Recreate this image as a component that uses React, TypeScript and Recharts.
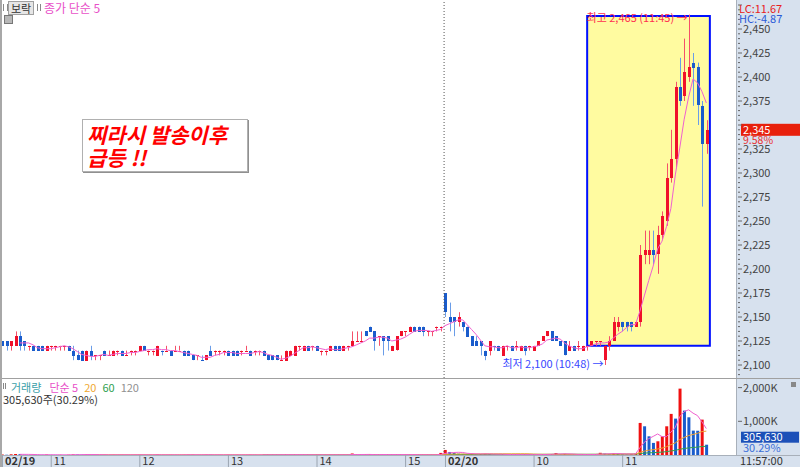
import React from 'react';
import {
  ComposedChart, Bar, Line, XAxis, YAxis, Cell,
  ReferenceArea, ReferenceLine, ReferenceDot,
} from 'recharts';

// 보락 3분봉 [시가, 고가, 저가, 종가]  02/19 10:27 ~ 15:30
const candles0219 = [
  [2125, 2125, 2120, 2120], [2125, 2125, 2115, 2120], [2120, 2125, 2115, 2125], [2120, 2135, 2120, 2130],
  [2130, 2135, 2115, 2120], [2125, 2125, 2115, 2120], [2120, 2120, 2115, 2120], [2120, 2120, 2115, 2115],
  [2120, 2120, 2115, 2115], [2120, 2120, 2115, 2115], [2115, 2120, 2115, 2120], [2120, 2120, 2115, 2120],
  [2120, 2120, 2115, 2120], [2120, 2120, 2115, 2120], [2120, 2120, 2115, 2120], [2120, 2120, 2115, 2115],
  [2115, 2120, 2105, 2110], [2110, 2115, 2105, 2105], [2115, 2115, 2105, 2105], [2105, 2115, 2105, 2115],
  [2115, 2120, 2105, 2110], [2110, 2110, 2105, 2110], [2110, 2110, 2105, 2110], [2115, 2115, 2110, 2110],
  [2110, 2115, 2110, 2110], [2110, 2115, 2110, 2115], [2115, 2115, 2110, 2115], [2115, 2115, 2110, 2110],
  [2110, 2115, 2110, 2110], [2115, 2115, 2110, 2115], [2115, 2115, 2110, 2115], [2115, 2120, 2115, 2120],
  [2120, 2120, 2115, 2115], [2115, 2115, 2110, 2115], [2115, 2115, 2110, 2115], [2110, 2120, 2110, 2120],
  [2115, 2115, 2110, 2115], [2115, 2120, 2115, 2115], [2115, 2115, 2110, 2110], [2115, 2120, 2115, 2115],
  [2115, 2120, 2115, 2115], [2115, 2115, 2110, 2110], [2115, 2115, 2110, 2110], [2110, 2110, 2105, 2105],
  [2110, 2110, 2105, 2110], [2105, 2110, 2105, 2105], [2105, 2110, 2105, 2110], [2115, 2120, 2110, 2110],
  [2115, 2115, 2110, 2115], [2115, 2115, 2110, 2115], [2115, 2115, 2110, 2115], [2115, 2115, 2110, 2110],
  [2115, 2115, 2110, 2110], [2115, 2115, 2110, 2110], [2115, 2115, 2110, 2115], [2115, 2120, 2115, 2115],
  [2115, 2115, 2110, 2110], [2115, 2115, 2110, 2115], [2115, 2115, 2110, 2115], [2115, 2115, 2110, 2110],
  [2110, 2110, 2105, 2105], [2110, 2110, 2105, 2105], [2110, 2110, 2105, 2105], [2105, 2110, 2105, 2105],
  [2105, 2115, 2105, 2115], [2110, 2115, 2110, 2115], [2110, 2120, 2110, 2120], [2120, 2120, 2115, 2120],
  [2115, 2120, 2115, 2120], [2120, 2120, 2115, 2115], [2120, 2120, 2115, 2120], [2120, 2120, 2115, 2115],
  [2115, 2115, 2110, 2115], [2115, 2115, 2110, 2115], [2115, 2120, 2115, 2120], [2120, 2120, 2115, 2115],
  [2120, 2120, 2115, 2115], [2115, 2120, 2115, 2120], [2120, 2120, 2115, 2120], [2120, 2135, 2120, 2125],
  [2125, 2135, 2125, 2125], [2125, 2135, 2125, 2125], [2135, 2135, 2130, 2130], [2140, 2140, 2135, 2135],
  [2135, 2135, 2115, 2125], [2130, 2130, 2120, 2130], [2130, 2130, 2110, 2125], [2130, 2130, 2115, 2125],
  [2115, 2120, 2115, 2120], [2115, 2130, 2115, 2130], [2130, 2135, 2130, 2135], [2135, 2135, 2130, 2135],
  [2135, 2140, 2135, 2140], [2140, 2140, 2135, 2135], [2140, 2140, 2135, 2135], [2140, 2140, 2130, 2135],
  [2135, 2135, 2130, 2135], [2135, 2135, 2130, 2135], [2140, 2140, 2135, 2140], [2140, 2140, 2135, 2140],
];

// 02/20 09:00 ~ 11:57
const candles0220 = [
  [2175, 2175, 2150, 2155], [2150, 2165, 2135, 2145], [2150, 2150, 2130, 2145], [2145, 2155, 2140, 2150],
  [2145, 2145, 2135, 2140], [2140, 2140, 2130, 2130], [2130, 2130, 2120, 2120], [2125, 2130, 2120, 2120],
  [2125, 2125, 2110, 2120], [2115, 2115, 2105, 2110], [2115, 2125, 2110, 2125], [2120, 2120, 2115, 2120],
  [2120, 2120, 2115, 2115], [2110, 2120, 2110, 2120], [2120, 2120, 2115, 2120], [2120, 2120, 2115, 2115],
  [2120, 2125, 2115, 2120], [2115, 2120, 2115, 2120], [2120, 2120, 2110, 2115], [2120, 2120, 2115, 2120],
  [2115, 2120, 2115, 2120], [2120, 2125, 2120, 2125], [2125, 2130, 2125, 2130], [2130, 2135, 2130, 2135],
  [2135, 2135, 2125, 2125], [2130, 2130, 2125, 2125], [2125, 2125, 2120, 2120], [2125, 2125, 2110, 2110],
  [2115, 2125, 2115, 2120], [2120, 2120, 2115, 2115], [2120, 2125, 2115, 2120], [2115, 2120, 2115, 2120],
  [2120, 2120, 2115, 2120], [2120, 2125, 2120, 2125], [2125, 2125, 2120, 2125], [2125, 2125, 2120, 2125],
  [2105, 2120, 2100, 2120], [2120, 2130, 2115, 2125], [2125, 2150, 2125, 2145], [2140, 2150, 2135, 2145],
  [2145, 2145, 2135, 2140], [2145, 2145, 2135, 2140], [2145, 2145, 2135, 2140], [2140, 2145, 2140, 2145],
  [2145, 2225, 2140, 2215], [2215, 2240, 2205, 2220], [2215, 2240, 2205, 2220], [2220, 2240, 2205, 2215],
  [2215, 2245, 2195, 2235], [2235, 2260, 2230, 2255], [2250, 2310, 2245, 2295], [2295, 2345, 2290, 2315],
  [2315, 2395, 2305, 2390], [2390, 2420, 2370, 2375], [2380, 2440, 2375, 2405], [2400, 2465, 2395, 2410],
  [2415, 2425, 2370, 2410], [2410, 2415, 2350, 2370], [2370, 2375, 2265, 2330], [2330, 2355, 2320, 2345],
];

const volume0219 = [
  12000, 8000, 21000, 30000, 26000, 9000, 5000, 11000, 7000, 6000,
  14000, 5000, 4000, 6000, 3000, 9000, 18000, 15000, 12000, 20000,
  10000, 4000, 3000, 7000, 3000, 8000, 5000, 9000, 4000, 5000,
  6000, 9000, 7000, 3000, 4000, 16000, 3000, 2000, 7000, 4000,
  5000, 8000, 9000, 12000, 3000, 4000, 11000, 9000, 4000, 3000,
  2000, 8000, 6000, 7000, 3000, 5000, 8000, 4000, 2000, 9000,
  13000, 8000, 7000, 4000, 15000, 9000, 14000, 5000, 8000, 7000,
  4000, 8000, 6000, 5000, 9000, 7000, 6000, 8000, 4000, 45000,
  9000, 8000, 11000, 14000, 20000, 8000, 17000, 12000, 9000, 18000,
  13000, 6000, 12000, 9000, 7000, 10000, 5000, 4000, 8000, 62000,
];

const volume0220 = [
  150000, 90000, 60000, 40000, 35000, 30000, 40000, 25000, 30000, 35000,
  30000, 15000, 12000, 20000, 10000, 12000, 15000, 10000, 12000, 8000,
  10000, 15000, 20000, 25000, 30000, 60000, 20000, 35000, 15000, 12000,
  10000, 15000, 12000, 20000, 18000, 65000, 40000, 30000, 45000, 35000,
  25000, 20000, 30000, 40000, 952000, 852000, 555000, 359000, 407000, 555000,
  852000, 1220000, 1080000, 1970000, 1318000, 1119000, 724000, 720000, 1050000, 305630,
];

const timeTickIdx = [0, 11, 31, 51, 71, 91, 100, 120, 140];
const timeTickText = ['02/19', '11', '12', '13', '14', '15', '02/20', '10', '11'];
const volumeTicks = [1000000, 2000000];
const highTime = '11:45';
const lowTime = '10:48';
const volRatioText = '30.29%';
const dayBreakIdx = 99.8;
const boxRange = { x1: 132.1, x2: 159.8, y1: 2120, y2: 2463.5 };

const FONT = "'Noto Sans CJK KR', 'Noto Sans', sans-serif";
const UP = '#f0102a';
const UP_WICK = '#f5506a';
const DOWN = '#1a5ccc';
const DOWN_WICK = '#6a9de8';
const X_DOMAIN: [number, number] = [0, 165.7];
const PRICE_DOMAIN: [number, number] = [2086.46, 2480.21];
const VOL_DOMAIN: [number, number] = [0, 2226000];
const MAX_PRICE_LABEL = 2450;

const allCandles = [...candles0219, ...candles0220];
const allVol = [...volume0219, ...volume0220];
const closes = allCandles.map((k) => k[3]);

const sma = (arr: number[], i: number, n: number) => {
  if (i < n - 1) return null;
  let s = 0;
  for (let j = i - n + 1; j <= i; j++) s += arr[j];
  return s / n;
};

const rows = allCandles.map(([o, h, l, c], i) => {
  const prevC = i > 0 ? closes[i - 1] : o;
  return {
    i, o, h, l, c,
    up: c > o || (c === o && c >= prevC),
    ma5: sma(closes, i, 5),
    v: allVol[i],
    vUp: i === 0 || allVol[i] >= allVol[i - 1],
    mv5: sma(allVol, i, 5),
    mv20: sma(allVol, i, 20),
    mv60: sma(allVol, i, 60),
  };
});

const priceTicks: number[] = [];
for (let p = 2090; p <= 2475; p += 5) priceTicks.push(p);

const last = rows[rows.length - 1];
const day2 = rows.filter((r) => r.i >= candles0219.length);
const highRow = day2.reduce((a, b) => (b.h > a.h ? b : a));
const lowRow = day2.reduce((a, b) => (b.l < a.l ? b : a));
const prevDayClose = candles0219[candles0219.length - 1][3];
const chgPct = ((last.c / prevDayClose - 1) * 100).toFixed(2);
const lcPct = ((last.c / lowRow.l - 1) * 100).toFixed(2);
const hcPct = ((last.c / highRow.h - 1) * 100).toFixed(2);
const fmt = (n: number) => n.toLocaleString('en-US');

const Candle = (props: any) => {
  const { x, y, width, height, payload } = props;
  if (!payload) return null;
  const { o, h, l, c, up } = payload;
  const top0 = Math.min(y, y + height);
  const hh = Math.abs(height);
  const k = h > l ? hh / (h - l) : 0;
  const cx = Math.round(x + width / 2);
  const bTop = top0 + (h - Math.max(o, c)) * k;
  const bBot = top0 + (h - Math.min(o, c)) * k;
  return (
    <g>
      <line x1={cx + 0.5} x2={cx + 0.5} y1={top0} y2={top0 + hh} stroke={up ? UP_WICK : DOWN_WICK} strokeWidth={1} />
      <rect x={cx - 1} y={Math.round(bTop)} width={3} height={Math.max(1, Math.round(bBot - bTop))} fill={up ? UP : DOWN} />
    </g>
  );
};

const PriceTick = (props: any) => {
  const { x, y, payload } = props;
  const v = payload.value;
  const major = v % 25 === 0;
  // the current-price tag covers the label next to it, like the trading screen does
  const showLabel = major && v <= MAX_PRICE_LABEL && Math.abs(v - last.c) >= 10;
  return (
    <g>
      <line x1={x + 2} x2={x + (major ? 6 : 4)} y1={y} y2={y} stroke="#666" />
      {showLabel && (
        <text x={x + 7} y={y + 0.5} dy="0.36em" fontSize={11} fill="#444" fontFamily={FONT}>{fmt(v)}</text>
      )}
    </g>
  );
};

const VolTick = (props: any) => {
  const { x, y, payload } = props;
  return (
    <g>
      <line x1={x + 2} x2={x + 6} y1={y} y2={y} stroke="#666" />
      <text x={x + 7} y={y} dy="0.36em" fontSize={11} fill="#444" fontFamily={FONT}>
        {fmt(payload.value / 1000)}K
      </text>
    </g>
  );
};

const TimeTick = (props: any) => {
  const { x, y, payload, index } = props;
  const txt = timeTickText[index] ?? String(payload.value);
  return (
    <g>
      <line x1={x + 0.5} x2={x + 0.5} y1={y} y2={y + 12} stroke="#9aa4b0" />
      <text x={x + 3} y={y + 10} fontSize={11} fill="#333" fontFamily={FONT} fontWeight={txt.includes('/') ? 700 : 400}>
        {txt}
      </text>
    </g>
  );
};

const PriceTag = (props: any) => {
  const { viewBox } = props;
  const x = viewBox.x + viewBox.width;
  const y = viewBox.y;
  return (
    <g>
      <rect x={x + 5} y={y - 6} width={64} height={12} fill="#e8200c" />
      <text x={x + 7} y={y} dy="0.36em" fontSize={11} fill="#fff" fontFamily={FONT}>{fmt(last.c)}</text>
      <text x={x + 7} y={y + 10.5} dy="0.36em" fontSize={10.5} fill="#e83030" fontFamily={FONT}>{chgPct}%</text>
    </g>
  );
};

const VolTag = (props: any) => {
  const { viewBox } = props;
  const x = viewBox.x + viewBox.width;
  const y = viewBox.y;
  return (
    <g>
      <rect x={x + 5} y={y - 13} width={58} height={11} fill="#1c50b8" />
      <text x={x + 7} y={y - 7.5} dy="0.36em" fontSize={11} fill="#fff" fontFamily={FONT}>{fmt(last.v)}</text>
      <text x={x + 7} y={y + 3.5} dy="0.36em" fontSize={11} fill="#3a6fd8" fontFamily={FONT}>{volRatioText}</text>
    </g>
  );
};

const Note = (props: any) => {
  const { viewBox, text, color, dy } = props;
  return (
    <text x={viewBox.x} y={viewBox.y + dy} textAnchor="end" fontSize={11} fill={color} fontFamily={FONT}>
      {text}
    </text>
  );
};

export default function App() {
  return (
    <div style={{ position: 'absolute', left: 0, top: 0, width: 800, height: 467, background: '#fff', overflow: 'hidden', fontFamily: FONT }}>
      {/* right scale panel + bottom time strip */}
      <div style={{ position: 'absolute', left: 736, top: 0, width: 64, height: 467, background: '#d7e1ee', borderLeft: '1px solid #a8b0ba' }} />
      <div style={{ position: 'absolute', left: 0, top: 455, width: 800, height: 12, background: '#d7e1ee', borderTop: '1px solid #a8b0ba' }} />
      <div style={{ position: 'absolute', left: 0, top: 378, width: 800, height: 1, background: '#a0a0a0' }} />
      <div style={{ position: 'absolute', left: 0, top: 0, width: 2, height: 467, background: '#a8a8a8' }} />

      <div style={{ position: 'absolute', left: 0, top: 0 }}>
        <ComposedChart width={800} height={379} data={rows} margin={{ top: 0, right: 0, bottom: 1, left: 2 }}>
          <XAxis type="number" dataKey="i" domain={X_DOMAIN} allowDataOverflow hide />
          <YAxis
            orientation="right" width={64} type="number" domain={PRICE_DOMAIN} allowDataOverflow
            ticks={priceTicks} interval={0} tickSize={0} tickMargin={0} axisLine={false} tickLine={false}
            tick={<PriceTick />}
          />
          <ReferenceArea {...boxRange} fill="#fffba0" fillOpacity={1} stroke="#0010ff" strokeWidth={2} ifOverflow="visible" />
          <ReferenceLine x={dayBreakIdx} stroke="#555" strokeDasharray="1 2" />
          <Bar dataKey={(d: any) => [d.l, d.h]} barSize={3} shape={<Candle />} isAnimationActive={false} />
          <Line dataKey="ma5" stroke="#f060d0" strokeWidth={1} dot={false} isAnimationActive={false} />
          <ReferenceDot x={highRow.i} y={highRow.h} r={1} fill="none" stroke="none"
            label={<Note text={`최고 ${fmt(highRow.h)} (${highTime}) →`} color="#ff3050" dy={8} />} />
          <ReferenceDot x={lowRow.i} y={lowRow.l} r={1} fill="none" stroke="none"
            label={<Note text={`최저 ${fmt(lowRow.l)} (${lowTime}) →`} color="#3848ff" dy={4} />} />
          <ReferenceLine y={last.c} stroke="none" label={<PriceTag />} />
        </ComposedChart>
      </div>

      <div style={{ position: 'absolute', left: 0, top: 379 }}>
        <ComposedChart width={800} height={88} data={rows} margin={{ top: 1, right: 0, bottom: 0, left: 2 }}>
          <XAxis
            type="number" dataKey="i" domain={X_DOMAIN} allowDataOverflow height={12}
            ticks={timeTickIdx} interval={0} tickSize={0} tickMargin={0} axisLine={false} tickLine={false}
            tick={<TimeTick />}
          />
          <YAxis
            orientation="right" width={64} type="number" domain={VOL_DOMAIN} allowDataOverflow
            ticks={volumeTicks} interval={0} tickSize={0} tickMargin={0} axisLine={false} tickLine={false}
            tick={<VolTick />}
          />
          <ReferenceLine x={dayBreakIdx} stroke="#555" strokeDasharray="1 2" />
          <Bar dataKey="v" barSize={3} isAnimationActive={false}>
            {rows.map((r) => (
              <Cell key={r.i} fill={r.vUp ? '#f01010' : '#1a5ccc'} />
            ))}
          </Bar>
          <Line dataKey="mv60" stroke="#30a050" strokeWidth={1} dot={false} isAnimationActive={false} />
          <Line dataKey="mv20" stroke="#f0a030" strokeWidth={1} dot={false} isAnimationActive={false} />
          <Line dataKey="mv5" stroke="#f060d0" strokeWidth={1} dot={false} isAnimationActive={false} />
          <ReferenceLine y={last.v} stroke="none" label={<VolTag />} />
        </ComposedChart>
      </div>

      {/* header */}
      <div style={{ position: 'absolute', left: 3, top: 4, width: 3, height: 7, borderLeft: '1px solid #888', borderRight: '1px solid #888' }} />
      <div style={{ position: 'absolute', left: 8, top: 1, width: 24, height: 12, background: '#e6e6e6', border: '1px solid #a0a0a0', fontSize: 11, lineHeight: '12px', color: '#333', textAlign: 'center' }}>보락</div>
      <div style={{ position: 'absolute', left: 37, top: 4, width: 2, height: 7, borderLeft: '1px solid #888', borderRight: '1px solid #888' }} />
      <div style={{ position: 'absolute', left: 44, top: 1, fontSize: 12, lineHeight: '14px', color: '#e850c8' }}>종가 단순 5</div>
      <div style={{ position: 'absolute', left: 4, top: 15, width: 7, height: 7, background: '#b8b8b8', border: '1px solid #777' }} />
      <div style={{ position: 'absolute', left: 739, top: 2, fontSize: 11, lineHeight: '12px', color: '#e82020' }}>LC:{lcPct}</div>
      <div style={{ position: 'absolute', left: 739, top: 13, fontSize: 11, lineHeight: '11px', color: '#2a5ad8' }}>HC:{hcPct}</div>

      {/* annotation box */}
      <div style={{ position: 'absolute', left: 82, top: 119, width: 166, height: 53, background: '#fff', border: '1px solid #b0b0b0', boxShadow: '1px 1px 0 #909090', color: '#ff0000', fontSize: 21, lineHeight: '23px', fontWeight: 700, fontStyle: 'italic', padding: '3px 0 0 4px', boxSizing: 'border-box', whiteSpace: 'nowrap' }}>
        찌라시 발송이후<br />급등 !!
      </div>

      {/* volume legend */}
      <div style={{ position: 'absolute', left: 3, top: 383, width: 1, height: 6, borderLeft: '1px solid #888', borderRight: '1px solid #888' }} />
      <div style={{ position: 'absolute', left: 11, top: 380, fontSize: 11, lineHeight: '14px', whiteSpace: 'nowrap' }}>
        <span style={{ color: '#3aa0a8' }}>거래량</span>
        <span style={{ color: '#e850c8', marginLeft: 8 }}>단순 5</span>
        <span style={{ color: '#f0a830', marginLeft: 6 }}>20</span>
        <span style={{ color: '#30a050', marginLeft: 6 }}>60</span>
        <span style={{ color: '#909090', marginLeft: 6 }}>120</span>
      </div>
      <div style={{ position: 'absolute', left: 3, top: 392, fontSize: 11, lineHeight: '14px', color: '#333' }}>
        {fmt(last.v)}주({volRatioText})
      </div>
      <div style={{ position: 'absolute', left: 791, top: 382, width: 5, height: 5, background: '#888' }} />
      <div style={{ position: 'absolute', left: 740, top: 454, fontSize: 11, lineHeight: '13px', color: '#333' }}>11:57:00</div>
    </div>
  );
}
